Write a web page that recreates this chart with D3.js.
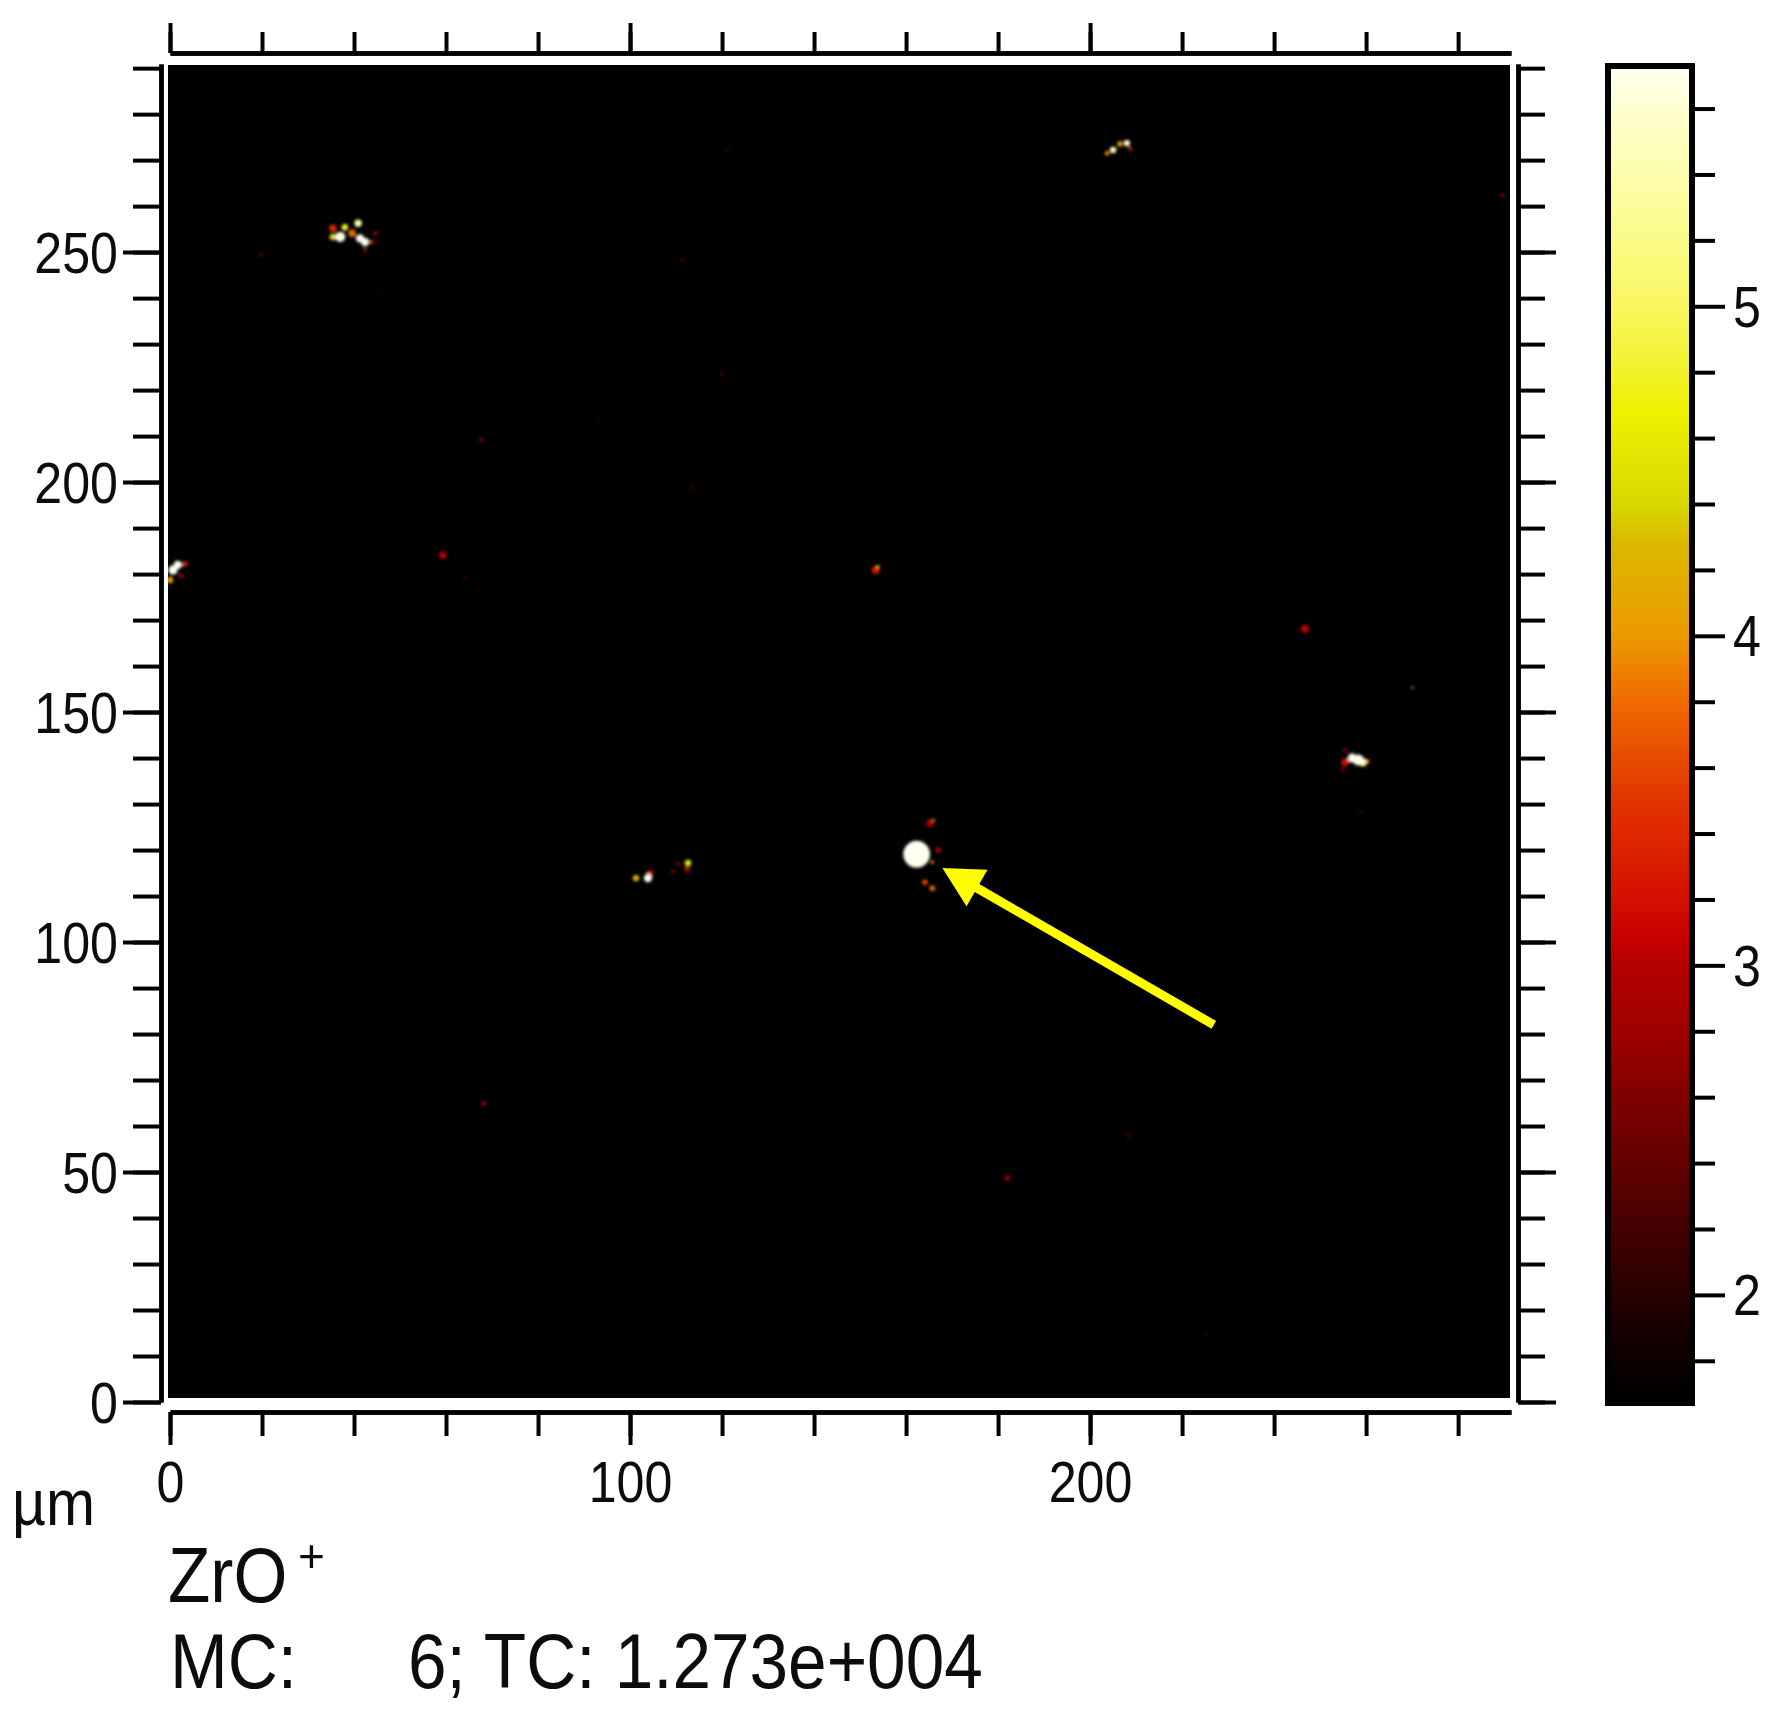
<!DOCTYPE html>
<html>
<head>
<meta charset="utf-8">
<script src="https://cdn.jsdelivr.net/npm/d3@7"></script>
<style>
html,body{margin:0;padding:0;background:#fff;}
svg{display:block;filter:blur(0.6px);}
text{font-family:"Liberation Sans",Arial,sans-serif;fill:#0c0c0c;}
</style>
</head>
<body>
<svg id="c" width="1776" height="1716"></svg>
<script>
// ---- data (positions in µm, intensity on the colour-bar scale) ----
const xMinorTicks = d3.range(0, 281, 20);
const xMajorTicks = [0, 100, 200];
const yMinorTicks = d3.range(0, 291, 10);
const yMajorTicks = [0, 50, 100, 150, 200, 250];
const barMinorTicks = [1.8,2.2,2.4,2.6,2.8,3.2,3.4,3.6,3.8,4.2,4.4,4.6,4.8,5.2,5.4,5.6];
const barMajorTicks = [2, 3, 4, 5];
const colorValues = [1.675,1.8,2,2.2,2.4,2.6,2.8,3,3.08,3.2,3.5,3.8,4,4.28,4.4,4.68,4.82,5,5.2,5.6,5.72];
const colorStops = ["#000000","#0a0000","#280000","#440000","#640000","#800000","#a00000","#b40000","#c60000","#d41000","#e23400","#f06a00","#ec9a00","#dcb800","#d8d800","#f0f000","#f2f230","#f7f75f","#fbfb88","#ffffd0","#fffff0"];
// [x µm, y µm, intensity, radius µm]
const spots = [
 [162.3,119.1,5.72,2.9],[165.2,125.9,3.0,.8],[166,126.5,4,.3],[165.7,111.7,3.8,.6],[164.1,113,3.6,.6],[167,120,3,.6],[165.7,117.4,4,.4],
 [37,253.3,5.72,1.1],[41.3,253,5.72,.9],[42.4,252.2,5.72,.9],[40.9,256.3,5.4,.8],[35.4,253.3,4.4,.7],[39.6,254.1,3.8,.8],[35.4,255.2,3.4,.8],[38,255.4,4.8,.7],[44.6,254.1,2.8,.5],[42.4,250.4,2.6,.5],[43.9,252.2,3.2,.5],
 [258.3,139.6,5.72,1.2],[257,140,5.72,1],[259.3,139.1,5.2,.9],[255.4,139.1,3.2,.8],[260.4,139.3,3.3,.5],[255.4,141.7,2.6,.5],[255,137.6,2.6,.5],
 [103.9,113.9,5.72,.9],[101.3,113.9,4.2,.7],[104.3,115,3,.8],[112.6,117.2,4.6,.7],[112.4,115.7,3,.6],[110.4,117,2.8,.4],[109.3,115.4,2.8,.4],
 [.65,180.9,5.72,1],[1.7,182,5.72,.9],[0,178.7,4,.7],[3.3,182.2,3.2,.6],[2.4,179.6,3,.5],
 [208,273.7,5.6,.7],[206.5,273.5,4,.6],[205,272.2,5.5,.7],[203.7,271.5,4,.5],[208.7,272.4,3,.5],
 [153.4,180.9,3.2,.9],[153.9,181.6,4.8,.3],[59.3,184.1,3,.8],[246.7,168.1,3,.9],[68.2,64.9,3,.5],[182,48.7,2.8,.6],
 [19.7,249.4,2.5,.4],[289.6,262.4,2.6,.5],[111.5,248.4,2.4,.4],[119.9,223.5,2.4,.4],[67.7,209.2,2.6,.5],[64.2,179.2,2.3,.4],
 [113.3,198.9,2.2,.4],[93,213.7,2.2,.3],[121.1,272.3,2.2,.4],[46,241.5,2.2,.3],[208.3,58,2.2,.5],[225,14.7,2.2,.3],
 [270.1,155.3,4.4,.25],[258.8,128.4,2.3,.3],[129.3,264.9,2,.3]
];
const arrowTail = [226.9, 82.0];
const arrowTip = [167.9, 116.1];
const unitLabel = "µm";
const ionLabel = "ZrO";
const ionCharge = "+";
const mcLabel = "MC:";
const countsLabel = "6; TC: 1.273e+004";

// ---- layout ----
const svg = d3.select("#c");
const x = d3.scaleLinear().domain([0, 291.5]).range([170, 1511]);
const y = d3.scaleLinear().domain([0, 290.9]).range([1402, 64]);
const bar = d3.scaleLinear().domain([1.675, 5.72]).range([1402, 69]);
const color = d3.scaleLinear().domain(colorValues).range(colorStops).clamp(true);

const defs = svg.append("defs");
defs.append("filter").attr("id","soft").attr("x","-5%").attr("y","-5%").attr("width","110%").attr("height","110%")
  .append("feGaussianBlur").attr("stdDeviation",1.6);
const grad = defs.append("linearGradient").attr("id","cbar")
  .attr("gradientUnits","userSpaceOnUse").attr("x1",0).attr("x2",0).attr("y1",bar(1.675)).attr("y2",bar(5.72));
colorValues.forEach((v,i)=>grad.append("stop").attr("offset",(v-1.675)/(5.72-1.675)).attr("stop-color",colorStops[i]));
const clip = defs.append("clipPath").attr("id","plot");
clip.append("rect").attr("x",168).attr("y",65).attr("width",1342).attr("height",1333);

// image panel
svg.append("rect").attr("x",168).attr("y",65).attr("width",1342).attr("height",1333).attr("fill","#000");
svg.append("g").attr("clip-path","url(#plot)")
  .append("g").attr("filter","url(#soft)")
  .selectAll("circle").data(spots.slice().sort((a,b)=>a[2]-b[2])).join("circle")
  .attr("cx",d=>x(d[0])).attr("cy",d=>y(d[1]))
  .attr("r",d=>x(d[3])-x(0)).attr("fill",d=>color(d[2]));

// arrow
const ax = x(arrowTail[0]), ay = y(arrowTail[1]), bx = x(arrowTip[0]), by = y(arrowTip[1]);
const L = Math.hypot(bx-ax, by-ay), ux = (bx-ax)/L, uy = (by-ay)/L, nx = -uy, ny = ux;
const hl = 40, hw = 21, sw = 4.5;
const pt = (d,o)=>[ax+ux*d+nx*o, ay+uy*d+ny*o];
svg.append("polygon").attr("fill","#ffff00").attr("points",
  [pt(0,-sw),pt(L-hl,-sw),pt(L-hl,-hw),pt(L,0),pt(L-hl,hw),pt(L-hl,sw),pt(0,sw)].map(p=>p.join(",")).join(" "));

// axes
function styleAxis(g, w){
  g.selectAll("path.domain").attr("stroke","#000").attr("stroke-width",w);
  g.selectAll(".tick line").attr("stroke","#000").attr("stroke-width",4);
  g.selectAll("text").attr("font-family",null).attr("fill",null);
}
function narrow(sel, sx){
  sel.each(function(){
    const t = d3.select(this), tx = +(t.attr("x")||0);
    t.attr("transform",`translate(${tx*(1-sx)},0) scale(${sx},1)`);
  });
}
function addAxis(gen, tx, ty){
  const g = svg.append("g").attr("transform",`translate(${tx},${ty})`).call(gen);
  styleAxis(g, 4.5);
  return g;
}
const none = ()=>"";
// left
addAxis(d3.axisLeft(y).tickValues(yMinorTicks).tickSize(28).tickSizeOuter(0).tickFormat(none),161,0);
const lm = addAxis(d3.axisLeft(y).tickValues(yMajorTicks).tickSize(38).tickSizeOuter(0).tickPadding(5).tickFormat(d3.format("d")),161,0);
lm.selectAll("text").attr("font-size",57).attr("dy",null).attr("y",20);
narrow(lm.selectAll("text"),0.88);
// right
addAxis(d3.axisRight(y).tickValues(yMinorTicks).tickSize(27).tickSizeOuter(0).tickFormat(none),1518,0);
addAxis(d3.axisRight(y).tickValues(yMajorTicks).tickSize(38).tickSizeOuter(0).tickFormat(none),1518,0);
// top
addAxis(d3.axisTop(x).tickValues(xMinorTicks).tickSize(21).tickSizeOuter(0).tickFormat(none),0,53);
addAxis(d3.axisTop(x).tickValues(xMajorTicks).tickSize(30).tickSizeOuter(0).tickFormat(none),0,53);
// bottom
addAxis(d3.axisBottom(x).tickValues(xMinorTicks).tickSize(24).tickSizeOuter(0).tickFormat(none),0,1412);
const bm = addAxis(d3.axisBottom(x).tickValues(xMajorTicks).tickSize(33).tickSizeOuter(0).tickFormat(d3.format("d")),0,1412);
bm.selectAll("text").attr("font-size",57).attr("dy",null).attr("y",90);
narrow(bm.selectAll("text"),0.88);

// colour bar
svg.append("rect").attr("x",1608).attr("y",66).attr("width",84).attr("height",1337)
  .attr("fill","url(#cbar)").attr("stroke","#000").attr("stroke-width",6);
const barAxisG = addAxis(d3.axisRight(bar).tickValues(barMinorTicks).tickSize(20).tickSizeOuter(0).tickFormat(none),1695,0);
barAxisG.select("path.domain").remove();
const barMajor = addAxis(d3.axisRight(bar).tickValues(barMajorTicks).tickSize(30).tickSizeOuter(0).tickPadding(8).tickFormat(d3.format("d")),1695,0);
barMajor.select("path.domain").remove();
barMajor.selectAll("text").attr("font-size",57).attr("dy",null).attr("y",20);
narrow(barMajor.selectAll("text"),0.88);

// labels
function label(txt, tx, ty, size, sx){
  svg.append("text").attr("transform",`translate(${tx},${ty}) scale(${sx},1)`).attr("font-size",size).text(txt);
}
label(unitLabel, 12, 1525, 64, 0.92);
label(ionLabel, 168, 1602, 77, 0.9);
label(ionCharge, 298, 1572, 46, 1);
label(mcLabel, 170, 1688, 77, 0.9);
label(countsLabel, 408, 1688, 77, 0.9);
</script>
</body>
</html>
